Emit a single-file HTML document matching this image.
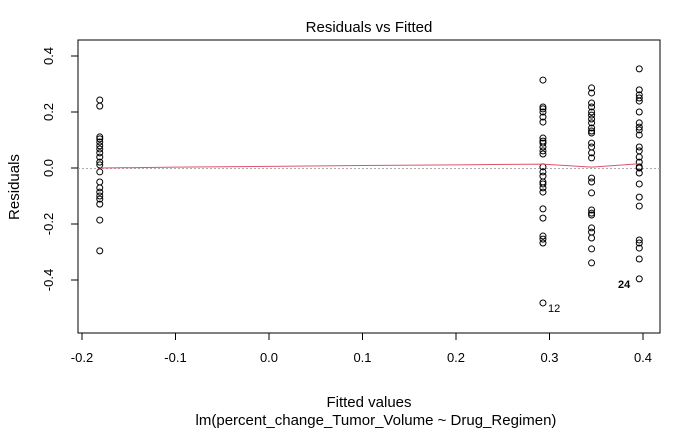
<!DOCTYPE html>
<html><head><meta charset="utf-8"><style>
body{margin:0;background:#fff;}
svg text{font-family:"Liberation Sans",Arial,sans-serif;}
</style></head><body>
<svg id="chart" width="700" height="432" xmlns="http://www.w3.org/2000/svg">
<text x="369" y="32" font-size="15" text-anchor="middle">Residuals vs Fitted</text>
<rect x="78" y="40" width="582" height="293" fill="none" stroke="#000" stroke-width="1"/>
<g id="xaxis"></g>
<g id="yaxis"></g>
<line x1="78" x2="660" y1="168.5" y2="168.5" stroke="#aaa" stroke-dasharray="2,2"/>
<g id="points"></g>
<path id="smooth" fill="none" stroke="#DF536B" stroke-width="1"/>
<text x="369" y="407" font-size="15" text-anchor="middle">Fitted values</text>
<text x="376" y="425" font-size="15" text-anchor="middle">lm(percent_change_Tumor_Volume ~ Drug_Regimen)</text>
<text transform="translate(19,187) rotate(-90)" font-size="15" text-anchor="middle">Residuals</text>
<text x="548" y="312" font-size="11">12</text>
<text x="618" y="288" font-size="11" font-weight="bold">24</text>
</svg>
<script>
const fittedGroups=[-0.181,0.293,0.345,0.396];
const residG1=[0.243,0.221,0.111,0.104,0.093,0.079,0.068,0.054,0.039,0.021,0.011,-0.014,-0.050,-0.071,-0.086,-0.100,-0.111,-0.129,-0.186,-0.296];
const residG2=[0.314,0.218,0.211,0.200,0.182,0.164,0.107,0.096,0.089,0.075,0.061,0.050,0.004,-0.014,-0.029,-0.050,-0.057,-0.071,-0.086,-0.146,-0.179,-0.243,-0.254,-0.268,-0.482];
const residG3=[0.286,0.268,0.232,0.218,0.200,0.189,0.175,0.161,0.143,0.132,0.125,0.089,0.075,0.054,0.036,-0.036,-0.050,-0.089,-0.150,-0.161,-0.168,-0.214,-0.229,-0.250,-0.289,-0.339];
const residG4=[0.354,0.279,0.261,0.250,0.239,0.200,0.161,0.146,0.136,0.118,0.075,0.061,0.039,0.021,0.004,0.000,-0.018,-0.057,-0.104,-0.136,-0.257,-0.268,-0.286,-0.325,-0.396];
const smoothX=[-0.181,-0.1,0.0,0.1,0.2,0.293,0.345,0.396];
const smoothY=[0.0,0.003,0.006,0.009,0.011,0.014,0.003,0.015];
const xTicks=[-0.2,-0.1,0.0,0.1,0.2,0.3,0.4];
const xTickLabels=["-0.2","-0.1","0.0","0.1","0.2","0.3","0.4"];
const yTicks=[0.4,0.2,0.0,-0.2,-0.4];
const yTickLabels=["0.4","0.2","0.0","-0.2","-0.4"];
const NS="http://www.w3.org/2000/svg";
function xs(v){return 82+(v+0.2)*935;}
function ys(v){return 168-v*280;}
function mk(t,a,p){const e=document.createElementNS(NS,t);for(const k in a)e.setAttribute(k,a[k]);p.appendChild(e);return e;}
const xa=document.getElementById('xaxis');
mk('line',{x1:xs(-0.2),x2:xs(0.4),y1:333,y2:333,stroke:'#000'},xa);
xTicks.forEach((v,i)=>{const l=mk('line',{x1:xs(v),x2:xs(v),y1:333,y2:340,stroke:'#000'},xa);


const t=mk('text',{x:xs(v),y:362,'font-size':13,'text-anchor':'middle'},xa);t.textContent=xTickLabels[i];

});
const ya=document.getElementById('yaxis');
mk('line',{x1:78,x2:78,y1:ys(0.4),y2:ys(-0.4),stroke:'#000'},ya);
yTicks.forEach((v,i)=>{const l=mk('line',{x1:71,x2:78,y1:ys(v),y2:ys(v),stroke:'#000'},ya);


const t=mk('text',{transform:`translate(53,${ys(v)}) rotate(-90)`,'font-size':13,'text-anchor':'middle'},ya);t.textContent=yTickLabels[i];

});
const pg=document.getElementById('points');
[residG1,residG2,residG3,residG4].forEach((arr,g)=>{arr.forEach(r=>{
const c=mk('circle',{cx:xs(fittedGroups[g]),cy:ys(r),r:3,fill:'none',stroke:'#000','stroke-width':1},pg);

});});
document.getElementById('smooth').setAttribute('d',smoothX.map((v,i)=>(i?'L':'M')+xs(v)+','+ys(smoothY[i])).join(''));
</script>
</body></html>
